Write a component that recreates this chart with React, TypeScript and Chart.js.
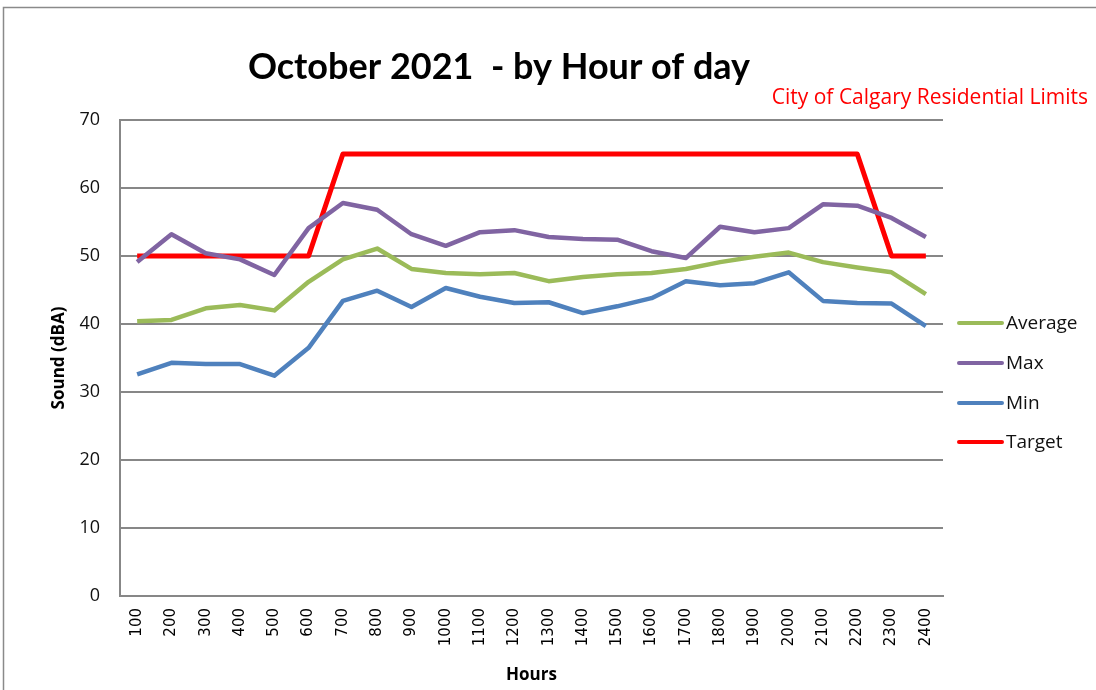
import React, { useEffect, useRef } from "react";
import { Chart, registerables } from "chart.js";

Chart.register(...registerables);

const hours = ["100","200","300","400","500","600","700","800","900","1000","1100","1200","1300","1400","1500","1600","1700","1800","1900","2000","2100","2200","2300","2400"];
const averageValues = [40.4,40.6,42.3,42.8,42.0,46.2,49.5,51.1,48.1,47.5,47.3,47.5,46.3,46.9,47.3,47.5,48.1,49.1,49.9,50.5,49.1,48.3,47.6,44.4];
const maxValues = [49.1,53.2,50.4,49.5,47.2,54.1,57.8,56.8,53.2,51.5,53.5,53.8,52.8,52.5,52.4,50.7,49.7,54.3,53.5,54.1,57.6,57.4,55.6,52.8];
const minValues = [32.6,34.3,34.1,34.1,32.4,36.5,43.4,44.9,42.5,45.3,44.0,43.1,43.2,41.6,42.6,43.8,46.3,45.7,46.0,47.6,43.4,43.1,43.0,39.7];
const targetValues = [50,50,50,50,50,50,65,65,65,65,65,65,65,65,65,65,65,65,65,65,65,65,50,50];
const yTicks = [0,10,20,30,40,50,60,70];

const titleText = "October 2021  - by Hour of day";
const subtitleText = "City of Calgary Residential Limits";
const yTitle = "Sound (dBA)";
const xTitle = "Hours";

const UI = "'Open Sans', 'Noto Sans', sans-serif";

const decorPlugin = {
  id: "decor",
  beforeDraw(chart: any) {
    const ctx = chart.ctx;
    ctx.save();
    ctx.fillStyle = "#ffffff";
    ctx.fillRect(0, 0, chart.width, chart.height);
    ctx.strokeStyle = "#8a8a8a";
    ctx.lineWidth = 1.5;
    ctx.beginPath();
    ctx.moveTo(3.5, chart.height);
    ctx.lineTo(3.5, 7.5);
    ctx.lineTo(chart.width, 7.5);
    ctx.stroke();
    ctx.restore();
  },
  afterDraw(chart: any) {
    const ctx = chart.ctx;
    const area = chart.chartArea;
    ctx.save();
    // title
    ctx.fillStyle = "#000000";
    ctx.textAlign = "center";
    ctx.textBaseline = "middle";
    ctx.font = "bold 36px Lato, sans-serif";
    ctx.fillText(titleText, 499, 67);
    // subtitle
    ctx.fillStyle = "#ff0000";
    ctx.font = "21px " + UI;
    ctx.textAlign = "right";
    ctx.fillText(subtitleText, 1088, 98);
    // x title
    ctx.fillStyle = "#000000";
    ctx.textAlign = "center";
    ctx.font = "bold 17px " + UI;
    ctx.fillText(xTitle, (area.left + area.right) / 2, 675);
    // y title
    ctx.save();
    ctx.translate(59, 358);
    ctx.rotate(-Math.PI / 2);
    ctx.fillText(yTitle, 0, 0);
    ctx.restore();
    // legend
    const rows = [323, 363, 403, 442];
    chart.data.datasets.forEach((ds: any, i: number) => {
      const y = rows[i];
      ctx.strokeStyle = ds.borderColor;
      ctx.lineWidth = 4;
      ctx.lineCap = "round";
      ctx.beginPath();
      ctx.moveTo(959, y);
      ctx.lineTo(1002, y);
      ctx.stroke();
      ctx.fillStyle = "#111111";
      ctx.textAlign = "left";
      ctx.font = "19px " + UI;
      ctx.fillText(ds.label, 1006, y + 1);
    });
    ctx.restore();
  },
};

export default function App() {
  const ref = useRef<HTMLCanvasElement>(null);
  useEffect(() => {
    if (!ref.current) return;
    const chart = new Chart(ref.current, {
      type: "line",
      data: {
        labels: hours,
        datasets: [
          { label: "Average", data: averageValues, borderColor: "#9bbb59", borderWidth: 4.5 },
          { label: "Max", data: maxValues, borderColor: "#8064a2", borderWidth: 4.5 },
          { label: "Min", data: minValues, borderColor: "#4f81bd", borderWidth: 4.5 },
          { label: "Target", data: targetValues, borderColor: "#ff0000", borderWidth: 5 },
        ].map((d) => ({ ...d, pointRadius: 0, fill: false, tension: 0, borderJoinStyle: "round" as const })),
      },
      options: {
        responsive: false,
        animation: false,
        layout: { padding: { left: 0, top: 120, right: 153, bottom: 0 } },
        plugins: { legend: { display: false }, title: { display: false }, tooltip: { enabled: false } },
        scales: {
          x: {
            type: "category",
            offset: true,
            grid: { display: false, drawTicks: false },
            border: { display: true, color: "#878787", width: 2 },
            ticks: {
              autoSkip: false,
              minRotation: 90,
              maxRotation: 90,
              padding: 12,
              color: "#000000",
              font: { family: "'DejaVu Sans', sans-serif", size: 15 },
            },
            afterFit: (s: any) => { s.height = 94; },
          },
          y: {
            min: 0,
            max: 70,
            afterBuildTicks: (s: any) => { s.ticks = yTicks.map((v) => ({ value: v })); },
            grid: { color: "#878787", lineWidth: 2, drawTicks: false },
            border: { display: true, color: "#878787", width: 2 },
            ticks: {
              padding: 20,
              color: "#111111",
              font: { family: UI, size: 18 },
            },
            afterFit: (s: any) => { s.width = 120; },
          },
        },
      },
      plugins: [decorPlugin],
    });
    return () => chart.destroy();
  }, []);
  return (
    <div style={{ position: "fixed", left: 0, top: 0, width: 1096, height: 690, overflow: "hidden", background: "#fff" }}>
      <canvas ref={ref} width={1096} height={690} style={{ display: "block" }} />
    </div>
  );
}
